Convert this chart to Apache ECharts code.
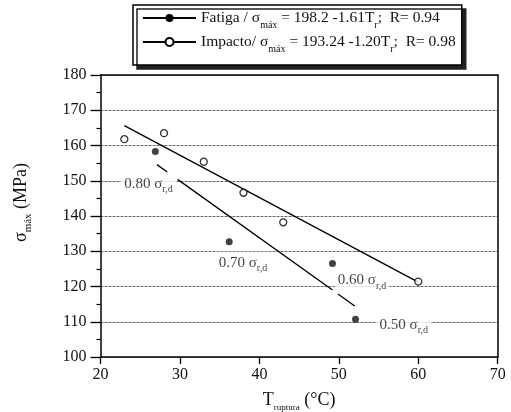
<!DOCTYPE html>
<html><head><meta charset="utf-8">
<script src="https://cdn.jsdelivr.net/npm/echarts@6/dist/echarts.min.js"></script>
<style>html,body{margin:0;padding:0;background:#fff}#c{width:511px;height:412px}</style>
</head><body><div id="c"></div>
<script>
// ---- data ----
const seriesNames = ['Fatiga', 'Impacto'];
const fatigaT = [26.9, 36.2, 49.2, 52.1];
const fatigaS = [158.3, 132.7, 126.5, 110.7];
const impactoT = [23, 28, 33, 38, 43, 60];
const impactoS = [161.8, 163.5, 155.4, 146.6, 138.2, 121.4];
const fitIntercept = [198.2, 193.24];
const fitSlope = [-1.61, -1.20];
const fitR = [0.94, 0.98];
const fatigaFitSegments = [[27.1, 28.4], [29.7, 49.2], [49.9, 52.0]];
const impactoFitRange = [23.0, 60.0];
const annotLabels = ['0.80', '0.70', '0.60', '0.50'];
const annotT = [22.6, 34.5, 49.5, 54.75];
const annotS = [150, 127.6, 122.6, 110];
const xRange = [20, 70, 10];
const yRange = [100, 180, 10];

// ---- build ----
const FONT = "'Liberation Serif', 'Times New Roman', serif";
const fit = (i, t) => fitIntercept[i] + fitSlope[i] * t;
const fatigaFitData = [];
fatigaFitSegments.forEach((seg, k) => {
  if (k > 0) fatigaFitData.push([(fatigaFitSegments[k - 1][1] + seg[0]) / 2, '-']);
  seg.forEach(t => fatigaFitData.push([t, fit(0, t)]));
});
const impactoFitData = impactoFitRange.map(t => [t, fit(1, t)]);
const mk = (size, lh, va) => ({ fontFamily: FONT, fontSize: size, color: '#111', lineHeight: lh, verticalAlign: va });
const legendRich = { t: mk(15.5, 24, 'middle'), s: mk(10, 1, 'bottom'), r: mk(10, 8, 'bottom') };
const yTitleRich = { t: mk(18, 24, 'middle'), s: mk(11, 2, 'bottom') };
const xTitleRich = { t: mk(18, 24, 'middle'), s: mk(9, 2, 'bottom') };
const annotRich = { t: mk(15, 22, 'middle'), r: mk(10, 3, 'bottom') };
const legendText = name => {
  const i = seriesNames.indexOf(name);
  const lead = i === 0 ? 'Fatiga / σ' : 'Impacto/ σ';
  return '{t|' + lead + '}{s|máx}{t| = ' + fitIntercept[i] + ' -' + Math.abs(fitSlope[i]).toFixed(2) +
    'T}{r|r}{t|;  R= ' + fitR[i].toFixed(2) + '}';
};
const hidden = { show: false };
const chart = echarts.init(document.getElementById('c'), null, { renderer: 'canvas' });
chart.setOption({
  animation: false,
  backgroundColor: '#fff',
  grid: { left: 100.5, right: 13.3, top: 75, bottom: 55, containLabel: false, outerBoundsMode: 'none' },
  legend: {
    data: seriesNames, left: 133, top: 5, orient: 'vertical',
    itemWidth: 53, itemHeight: 10, itemGap: 4, padding: [5, 6, 11, 9],
    backgroundColor: '#fff', borderColor: '#000', borderWidth: 1.5,
    shadowColor: '#222', shadowOffsetX: 4, shadowOffsetY: 4, shadowBlur: 0,
    selectedMode: false, textStyle: { rich: legendRich }, formatter: legendText
  },
  xAxis: [{
    type: 'value', min: xRange[0], max: xRange[1], interval: xRange[2],
    name: '{t|T}{s|ruptura}{t| (°C)}', nameLocation: 'middle', nameGap: 31,
    nameTextStyle: { rich: xTitleRich },
    axisLine: { onZero: false, lineStyle: { color: '#000', width: 1.5 } },
    axisTick: { length: 7, lineStyle: { color: '#000', width: 1.3 } },
    axisLabel: { fontFamily: FONT, fontSize: 16, color: '#111', margin: 10 },
    splitLine: hidden
  }, {
    type: 'value', position: 'top', min: xRange[0], max: xRange[1],
    axisLine: { onZero: false, lineStyle: { color: '#000', width: 1.5 } },
    axisTick: hidden, axisLabel: hidden, splitLine: hidden
  }],
  yAxis: [{
    type: 'value', min: yRange[0], max: yRange[1], interval: yRange[2],
    name: '{t|σ}{s|máx}{t| (MPa)}', nameLocation: 'middle', nameGap: 67,
    nameTextStyle: { rich: yTitleRich, padding: [0, 0, 0, 27] },
    axisLine: { show: true, onZero: false, lineStyle: { color: '#000', width: 1.5 } },
    axisTick: { show: true, length: 10, lineStyle: { color: '#000', width: 1.3 } },
    minorTick: { show: true, splitNumber: 2, length: 4, lineStyle: { color: '#000', width: 1.2 } },
    axisLabel: { fontFamily: FONT, fontSize: 16, color: '#111', margin: 14 },
    splitLine: { show: true, lineStyle: { color: '#666', width: 1, type: [3, 1] } }
  }, {
    type: 'value', position: 'right', min: yRange[0], max: yRange[1],
    axisLine: { show: true, onZero: false, lineStyle: { color: '#000', width: 1.5 } },
    axisTick: hidden, axisLabel: hidden, splitLine: hidden
  }],
  series: [{
    name: seriesNames[0], type: 'line', z: 3, data: fatigaFitData,
    symbol: 'circle', symbolSize: 7, showSymbol: false, connectNulls: false,
    lineStyle: { color: '#000', width: 1.3 }, itemStyle: { color: '#000' }
  }, {
    name: seriesNames[1], type: 'line', z: 3, data: impactoFitData,
    symbol: 'circle', symbolSize: 7, showSymbol: false,
    lineStyle: { color: '#000', width: 1.3 },
    itemStyle: { color: '#fff', borderColor: '#000', borderWidth: 1.3 }
  }, {
    name: 'fatiga-pts', type: 'scatter', z: 4, symbol: 'circle', symbolSize: 7,
    data: fatigaT.map((t, i) => [t, fatigaS[i]]),
    itemStyle: { color: '#111' }
  }, {
    name: 'impacto-pts', type: 'scatter', z: 4, symbol: 'circle', symbolSize: 7,
    data: impactoT.map((t, i) => [t, impactoS[i]]),
    itemStyle: { color: '#fff', borderColor: '#000', borderWidth: 1.3 }
  }, {
    name: 'labels', type: 'scatter', z: 10, symbolSize: 0, silent: true,
    data: annotT.map((t, i) => ({ value: [t, annotS[i]], name: annotLabels[i] })),
    label: {
      show: true, position: 'right', distance: 0, offset: [0, 3],
      backgroundColor: '#fff', padding: [0, 3],
      formatter: p => '{t|' + p.name + ' σ}{r|r,d}', rich: annotRich
    }
  }]
});
</script></body></html>
